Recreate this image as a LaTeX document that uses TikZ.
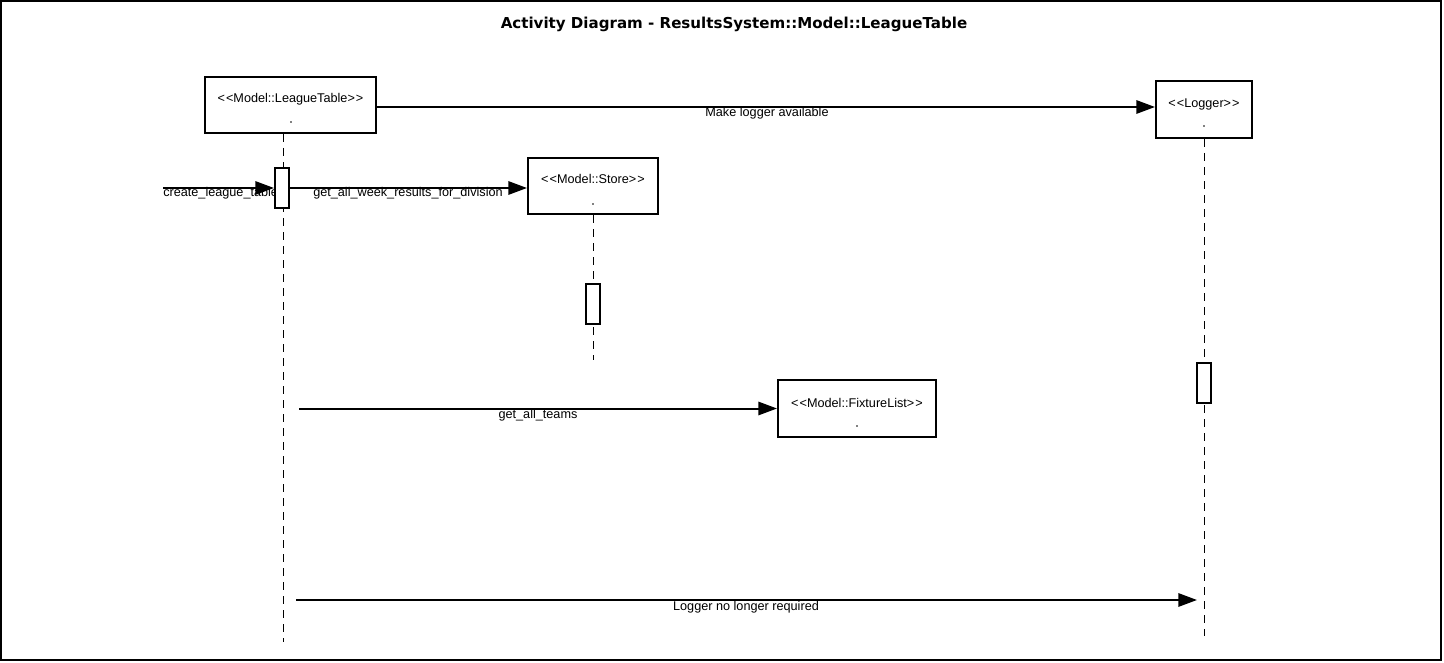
\documentclass[tikz,border=0pt]{standalone}
\usepackage{fontspec}
\setmainfont{Liberation Sans}
\newfontfamily\titlefont{DejaVu Sans}
\usetikzlibrary{arrows.meta}
\newcommand\oll{<\kern0.8pt<}
\newcommand\ogg{>\kern0.8pt>}
\tikzset{
  objbox/.style={draw, line width=1.5pt, inner sep=0pt},
  actbar/.style={draw, line width=1.5pt, fill=white, minimum width=10.5pt, minimum height=30pt, inner sep=0pt},
  lifeline/.style={line width=0.75pt, dash pattern=on 6pt off 4.5pt},
  msg/.style={line width=1.5pt, -{Triangle[length=14pt,width=10pt]}},
  lbl/.style={font=\fontsize{9.5}{11}\selectfont, inner sep=0pt, anchor=base},
  dotmark/.style={circle, fill=black, inner sep=0pt, minimum size=1.4pt}
}
\begin{document}
\begin{tikzpicture}[x=0.75pt,y=-0.75pt]
\useasboundingbox (0,0) rectangle (1444,663);
\draw[line width=1.5pt] (1,1) rectangle (1441,660);
\node[font=\titlefont\bfseries\fontsize{11.3}{13}\selectfont, inner sep=0pt, anchor=base] (title) at (734,28.5) {Activity Diagram - ResultsSystem::Model::LeagueTable};

% object boxes
\node[objbox, minimum width=128.25pt, minimum height=42pt] (lt) at (290.5,105) {};
\node[objbox, minimum width=97.5pt, minimum height=42pt] (store) at (593,186) {};
\node[objbox, minimum width=72pt, minimum height=42.75pt] (logger) at (1204,109.5) {};
\node[objbox, minimum width=118.5pt, minimum height=42.75pt] (fix) at (857,408.5) {};

\node[lbl] (ltl) at (290.5,103) {\oll Model::LeagueTable\ogg};
\node[lbl] (storel) at (593,183) {\oll Model::Store\ogg};
\node[lbl] (loggerl) at (1204,107.5) {\oll Logger\ogg};
\node[lbl] (fixl) at (857,407) {\oll Model::FixtureList\ogg};
\node[dotmark] (ltd) at (291,122) {};
\node[dotmark] (stored) at (593,204) {};
\node[dotmark] (loggerd) at (1204,126) {};
\node[dotmark] (fixd) at (857,426) {};

% lifelines
\coordinate (ltEnd) at (283,642);
\coordinate (storeEnd) at (593,360);
\coordinate (loggerEnd) at (1204,636);
\draw[lifeline] (lt.south -| ltEnd) -- (ltEnd);
\draw[lifeline] (store.south) -- (storeEnd);
\draw[lifeline] (logger.south) -- (loggerEnd);

% labels
\node[lbl, anchor=base west] (cl) at (163,196.5) {create\_league\_table};
\node[lbl] (gl) at (408,196.5) {get\_all\_week\_results\_for\_division};
\node[lbl] (ml) at (767,117) {Make logger available};
\node[lbl] (tl) at (538,418) {get\_all\_teams};
\node[lbl] (nl) at (746,610.5) {Logger no longer required};

% activation bars
\node[actbar] (a1) at (282,188) {};
\node[actbar] (a2) at (593,304) {};
\node[actbar] (a3) at (1204,383) {};

% messages
\coordinate (cStart) at (163,188);
\draw[msg] (cStart) -- (a1.west);
\node[actbar] at (a1) {};
\draw[msg] (a1.east) -- (a1.east -| store.west);
\coordinate (mStart) at (376,107);
\draw[msg] (mStart) -- (mStart -| logger.west);
\coordinate (gStart) at (299,408.5);
\draw[msg] (gStart) -- (fix.west);
\coordinate (nStart) at (296,600);
\coordinate (nEnd) at (1197,600);
\draw[msg] (nStart) -- (nEnd);
\end{tikzpicture}
\end{document}
